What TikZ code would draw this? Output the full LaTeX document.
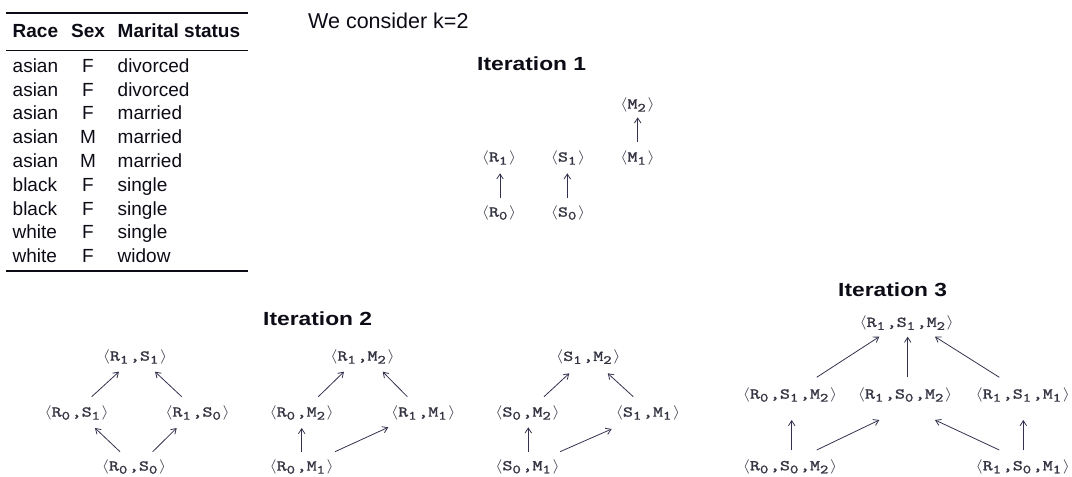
\documentclass[tikz,border=0pt]{standalone}
\usepackage{fontspec}
\setmainfont{Liberation Sans}
\newfontfamily\lblfont[FakeBold=1.3]{lmmono10-regular.otf}
\usepackage{graphicx}
\usetikzlibrary{arrows.meta}
\definecolor{lblc}{RGB}{52,52,66}
\definecolor{arrc}{RGB}{50,50,78}
\definecolor{txtc}{RGB}{12,12,22}
\newcommand\lbsub[1]{\makebox[7.875pt][l]{\raisebox{-3pt}{\fontsize{12.5}{13}\selectfont #1}}}
\newcommand\lbl[1]{\scalebox{1.27}[1]{\fontsize{15}{16}\selectfont\lblfont $\langle$#1$\rangle$}}
\newcommand\arw[4]{\draw[arr] ([shift={(#2)}]#1.center) -- ([shift={(#4)}]#3.center);}
\tikzset{
  lab/.style={inner sep=0pt, text=lblc},
  arr/.style={draw=arrc, line width=0.8pt, -{Straight Barb[length=5pt,width=6.5pt]}},
  tbl/.style={inner sep=0pt, anchor=base west, text=txtc, font=\fontsize{19}{23}\selectfont},
  tblc/.style={tbl, anchor=base},
  tblh/.style={tbl, font=\fontsize{19}{23}\selectfont\bfseries},
  iterh/.style={inner sep=0pt, anchor=base west, text=txtc},
}
\begin{document}
\begin{tikzpicture}[x=1pt,y=-1pt]
\useasboundingbox (0,0) rectangle (1072,477);
% ---------- table ----------
\draw[txtc, line width=1.8pt] (6,12.7) -- (248,12.7);
\draw[txtc, line width=1.3pt] (6,50.5) -- (248,50.5);
\draw[txtc, line width=1.8pt] (6,270.7) -- (248,270.7);
\node[tblh] (hrace) at (12.5,37) {Race};
\node[tblh, anchor=base] (hsex) at (88,37) {Sex};
\node[tblh] (hmar) at (117.5,37) {Marital status};
\foreach \y/\r/\s/\m [count=\i] in {72.5/asian/F/divorced, 96/asian/F/divorced, 119.5/asian/F/married, 143.5/asian/M/married, 167.5/asian/M/married, 191.5/black/F/single, 215/black/F/single, 238.5/white/F/single, 262.5/white/F/widow}{
  \node[tbl] (race\i) at (12.5,\y) {\r};
  \node[tblc] (sex\i) at (88,\y) {\s};
  \node[tbl] (mar\i) at (117.5,\y) {\m};
}
% ---------- titles ----------
\node[iterh, font=\fontsize{21.5}{24}\selectfont] (consider) at (308,28) {We consider k=2};
\node[iterh] (it1) at (477,70) {\scalebox{1.2}[1]{\fontsize{19}{22}\selectfont\bfseries Iteration 1}};
\node[iterh] (it2) at (263,325) {\scalebox{1.2}[1]{\fontsize{19}{22}\selectfont\bfseries Iteration 2}};
\node[iterh] (it3) at (838,296) {\scalebox{1.2}[1]{\fontsize{19}{22}\selectfont\bfseries Iteration 3}};
% ---------- iteration 1 ----------
\node[lab] (r1) at (499,158) {\lbl{R\lbsub1}};
\node[lab] (r0) at (499,213) {\lbl{R\lbsub0}};
\node[lab] (s1) at (568,158) {\lbl{S\lbsub1}};
\node[lab] (s0) at (568,213) {\lbl{S\lbsub0}};
\node[lab] (m2) at (637.5,105) {\lbl{M\lbsub2}};
\node[lab] (m1) at (637.5,158) {\lbl{M\lbsub1}};
\arw{r0}{1,-14.7}{r1}{1,15.3}
\arw{s0}{-0.7,-14.7}{s1}{-0.7,15.3}
\arw{m1}{0.2,-16.3}{m2}{0.2,12.3}
% ---------- iteration 2, group A ----------
\node[lab] (a11) at (135,357) {\lbl{R\lbsub1,S\lbsub1}};
\node[lab] (a01) at (76.7,413) {\lbl{R\lbsub0,S\lbsub1}};
\node[lab] (a10) at (197.5,413) {\lbl{R\lbsub1,S\lbsub0}};
\node[lab] (a00) at (134,467) {\lbl{R\lbsub0,S\lbsub0}};
\arw{a01}{15,-16.3}{a11}{-16,14.7}
\arw{a10}{-15.8,-16.3}{a11}{20,14.7}
\arw{a00}{-14,-15.3}{a01}{18.3,15}
\arw{a00}{18.7,-15.3}{a10}{-20.8,15}
% ---------- iteration 2, group B ----------
\node[lab] (b12) at (362.5,357) {\lbl{R\lbsub1,M\lbsub2}};
\node[lab] (b02) at (301.7,413) {\lbl{R\lbsub0,M\lbsub2}};
\node[lab] (b11) at (423.3,413) {\lbl{R\lbsub1,M\lbsub1}};
\node[lab] (b01) at (301.7,467) {\lbl{R\lbsub0,M\lbsub1}};
\arw{b02}{16.6,-16.3}{b12}{-18.5,14.7}
\arw{b11}{-16,-16.3}{b12}{20.2,14.7}
\arw{b01}{0,-15.3}{b02}{0,15}
\arw{b01}{33.3,-15.3}{b11}{-35,14.3}
% ---------- iteration 2, group C ----------
\node[lab] (c12) at (588.3,357.3) {\lbl{S\lbsub1,M\lbsub2}};
\node[lab] (c02) at (527.5,413) {\lbl{S\lbsub0,M\lbsub2}};
\node[lab] (c11) at (648,413) {\lbl{S\lbsub1,M\lbsub1}};
\node[lab] (c01) at (527.5,466.7) {\lbl{S\lbsub0,M\lbsub1}};
\arw{c02}{16.5,-16.3}{c12}{-19,16}
\arw{c11}{-14.7,-16.3}{c12}{19.4,16}
\arw{c01}{0.8,-15}{c02}{0.8,14.3}
\arw{c01}{32.5,-15}{c11}{-36.3,16}
% ---------- iteration 3 ----------
\node[lab] (t) at (906.7,323.3) {\lbl{R\lbsub1,S\lbsub1,M\lbsub2}};
\node[lab] (u1) at (790,395) {\lbl{R\lbsub0,S\lbsub1,M\lbsub2}};
\node[lab] (u2) at (905,395) {\lbl{R\lbsub1,S\lbsub0,M\lbsub2}};
\node[lab] (u3) at (1022.8,395) {\lbl{R\lbsub1,S\lbsub1,M\lbsub1}};
\node[lab] (v1) at (790,466.7) {\lbl{R\lbsub0,S\lbsub0,M\lbsub2}};
\node[lab] (v2) at (1022.8,466.7) {\lbl{R\lbsub1,S\lbsub0,M\lbsub1}};
\arw{u1}{26.7,-17.7}{t}{-27.4,13.4}
\arw{u2}{2.7,-17.7}{t}{1,13.4}
\arw{u3}{-23.5,-17.7}{t}{28.3,13.4}
\arw{v1}{1.7,-16.7}{u1}{1.7,25}
\arw{v1}{26.7,-16.7}{u2}{-25.7,25}
\arw{v2}{-23.5,-16.7}{u2}{30,25}
\arw{v2}{0.5,-16.7}{u3}{0.5,25}
\end{tikzpicture}
\end{document}
